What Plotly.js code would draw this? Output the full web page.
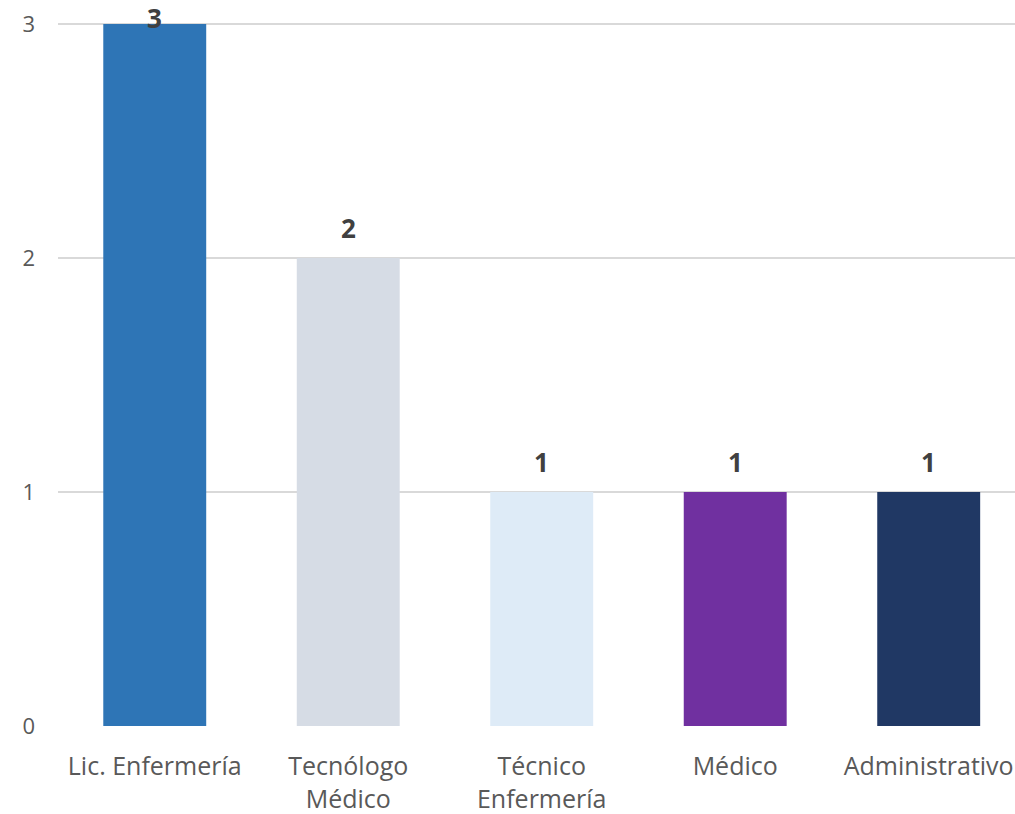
<!DOCTYPE html>
<html>
<head>
<meta charset="utf-8">
<script src="https://cdn.plot.ly/plotly-3.0.1.min.js"></script>
<style>html,body{margin:0;padding:0;background:#fff;}#chart{width:1015px;height:814px;}</style>
</head>
<body>
<div id="chart"></div>
<script>
const categories = ["Lic. Enfermería", "Tecnólogo Médico", "Técnico Enfermería", "Médico", "Administrativo"];
const tickLabels = ["Lic. Enfermería", "Tecnólogo<br>Médico", "Técnico<br>Enfermería", "Médico", "Administrativo"];
const values = [3, 2, 1, 1, 1];
const barColors = ["#2E75B6", "#D6DCE5", "#DEEBF7", "#7030A0", "#203864"];
const yTicks = [0, 1, 2, 3];

const marginTop = 20, marginBottom = 88, H = 814;
const yMax = 3.017;
const pxPerUnit = (H - marginTop - marginBottom) / yMax;

const annotations = values.map((v, i) => ({
  x: categories[i], y: v, xref: 'x', yref: 'y',
  text: '<b>' + v + '</b>', showarrow: false,
  yanchor: 'middle', xanchor: 'center',
  yshift: Math.min(30, marginTop - 18 + (yMax - v) * pxPerUnit),
  font: {family: 'Open Sans, sans-serif', size: 26, color: '#404040'}
}));

Plotly.newPlot('chart', [{
  type: 'bar', x: categories, y: values,
  marker: {color: barColors},
  hoverinfo: 'none'
}], {
  width: 1015, height: 814,
  margin: {l: 58, r: 0, t: marginTop, b: marginBottom, pad: 0},
  paper_bgcolor: '#fff', plot_bgcolor: '#fff',
  bargap: 0.468,
  showlegend: false,
  xaxis: {
    type: 'category', range: [-0.5, 4.446],
    tickvals: categories, ticktext: tickLabels,
    showgrid: false, zeroline: false, showline: false, ticks: '',
    ticklabelstandoff: 23,
    tickfont: {family: 'Open Sans, sans-serif', size: 25, color: '#595959'}
  },
  yaxis: {
    range: [0, yMax], tickvals: yTicks,
    showgrid: true, gridcolor: '#D9D9D9', gridwidth: 2,
    zeroline: false, showline: false, ticks: '',
    ticklabelstandoff: 22,
    tickfont: {family: 'Open Sans, sans-serif', size: 22, color: '#595959'}
  },
  annotations: annotations
}, {staticPlot: true});
</script>
</body>
</html>
